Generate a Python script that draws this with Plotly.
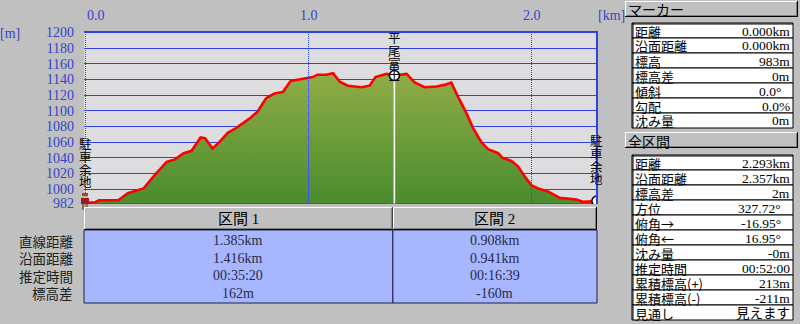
import plotly.graph_objects as go

# ---------------- data ----------------
dist_km = [0.0, 0.04, 0.06, 0.147, 0.19, 0.26, 0.31, 0.364, 0.40, 0.44, 0.476, 0.516, 0.536,
           0.57, 0.60, 0.638, 0.675, 0.735, 0.772, 0.81, 0.847, 0.885, 0.92, 0.974, 1.02,
           1.04, 1.08, 1.11, 1.14, 1.176, 1.21, 1.237, 1.274, 1.30, 1.35, 1.385, 1.44,
           1.476, 1.52, 1.573, 1.61, 1.64, 1.67, 1.708, 1.738, 1.775, 1.805, 1.85, 1.87,
           1.91, 1.94, 1.97, 2.0, 2.03, 2.075, 2.127, 2.20, 2.23, 2.293]
elev_m = [983, 983, 986, 986, 995, 1001, 1018, 1035, 1038, 1046, 1049, 1066, 1065,
          1052, 1060, 1072, 1078, 1090, 1099, 1116, 1122, 1124, 1138, 1141, 1143,
          1146, 1146, 1148, 1137, 1132, 1131, 1130, 1132, 1143, 1147, 1145, 1147,
          1136, 1130, 1131, 1133, 1136, 1118, 1097, 1078, 1060, 1051, 1046, 1040,
          1036, 1029, 1016, 1005, 1001, 997, 989, 987, 984, 985]

marker_km = [1.385, 2.293]
marker_elev = [1145, 985]

point_names = ["駐車余地", "平尾富士", "駐車余地"]
point_km = [0.0, 1.385, 2.293]

x_ticks = [0.0, 1.0, 2.0]
x_tick_text = ["0.0", "1.0", "2.0"]
y_ticks = [982, 1000, 1020, 1040, 1060, 1080, 1100, 1120, 1140, 1160, 1180, 1200]
y_tick_text = [str(v) for v in y_ticks]

section_names = ["区間 1", "区間 2"]
section_bounds_km = [0.0, 1.385, 2.293]
row_labels = ["直線距離", "沿面距離", "推定時間", "標高差"]
sec1_values = ["1.385km", "1.416km", "00:35:20", "162m"]
sec2_values = ["0.908km", "0.941km", "00:16:39", "-160m"]

marker_title = "マーカー"
marker_labels = ["距離", "沿面距離", "標高", "標高差", "傾斜", "勾配", "沈み量"]
marker_values = ["0.000km", "0.000km", "983m", "0m", "0.0°", "0.0%", "0m"]
total_title = "全区間"
total_labels = ["距離", "沿面距離", "標高差", "方位", "俯角→", "俯角←", "沈み量",
                "推定時間", "累積標高(+)", "累積標高(-)", "見通し"]
total_values = ["2.293km", "2.357km", "2m", "327.72°", "-16.95°", "16.95°", "-0m",
                "00:52:00", "213m", "-211m", "見えます"]

# ---------------- styling / layout helpers ----------------
W, H = 800, 324
PL, PR, PT, PB = 84, 598, 31, 205        # plot area in pixels
XR = [-0.0067, 2.298]
YR = [979.96, 1201.66]
BLUE = "#2e42e0"
TICKBLUE = "#3344cc"
BG = "#c0c0c0"
SERIF = "Liberation Serif, Noto Sans CJK JP"
CJK = "Noto Sans CJK JP"

def X(p):
    return (p - PL) / (PR - PL)

def Y(p):
    return (PB - p) / (PB - PT)

def km_px(k):
    return PL + (k - XR[0]) / (XR[1] - XR[0]) * (PR - PL)

shapes = []
annotations = []

def rect(x0, y0, x1, y1, fill, lc=None, lw=0):
    shapes.append(dict(type="rect", xref="paper", yref="paper", x0=X(x0), x1=X(x1),
                       y0=Y(y1), y1=Y(y0), fillcolor=fill,
                       line=dict(width=lw, color=lc or fill), layer="above"))

def seg(x0, y0, x1, y1, color, w=1, dash=None):
    d = dict(color=color, width=w)
    if dash:
        d["dash"] = dash
    shapes.append(dict(type="line", xref="paper", yref="paper", x0=X(x0), y0=Y(y0),
                       x1=X(x1), y1=Y(y1), line=d, layer="above"))

def bevel(x0, y0, x1, y1):
    rect(x0, y0, x1, y1, BG)
    seg(x0, y0 + 0.5, x1, y0 + 0.5, "#ffffff")
    seg(x0 + 0.5, y0, x0 + 0.5, y1, "#ffffff")
    seg(x0, y1 - 0.5, x1, y1 - 0.5, "#000000")
    seg(x1 - 0.5, y0, x1 - 0.5, y1, "#000000")
    seg(x0 + 1, y1 - 1.5, x1 - 1, y1 - 1.5, "#808080")
    seg(x1 - 1.5, y0 + 1, x1 - 1.5, y1 - 1, "#808080")

def text(x, y, s, size=13, color="#000000", anchor="center", family=CJK):
    annotations.append(dict(xref="paper", yref="paper", x=X(x), y=Y(y), text=s,
                            showarrow=False, xanchor=anchor, yanchor="middle",
                            borderpad=0, font=dict(family=family, size=size, color=color)))

# ---------------- traces ----------------
fig = go.Figure()
fig.add_trace(go.Scatter(x=[dist_km[0], dist_km[-1]], y=[y_ticks[0], y_ticks[0]],
                         mode="lines", line=dict(width=0), hoverinfo="skip"))
fig.add_trace(go.Scatter(x=dist_km, y=elev_m, mode="lines", fill="tonexty",
                         fillgradient=dict(type="vertical",
                                           colorscale=[[0, "#4a8c2e"], [1, "#90ad46"]]),
                         line=dict(color="#ff0000", width=2.6)))
# white marker line at the summit
fig.add_trace(go.Scatter(x=[marker_km[0], marker_km[0]], y=[y_ticks[0], marker_elev[0]],
                         mode="lines", line=dict(color="#ffffff", width=1.6)))
fig.add_trace(go.Scatter(x=marker_km, y=marker_elev, mode="markers",
                         marker=dict(symbol="circle", size=10, color="#ffffff",
                                     line=dict(color="#000000", width=1.5))))

# vertical dotted km lines (above the fill)
for k in x_ticks:
    shapes.append(dict(type="line", xref="x", yref="paper", x0=k, x1=k, y0=0, y1=1,
                       line=dict(color=BLUE, width=1, dash="1px,1px"), layer="above"))
# frame top / right
seg(PL, PT + 1, PR, PT + 1, BLUE, 2)
seg(PR - 1, PT, PR - 1, PB, BLUE, 2)
seg(PL, PB - 0.5, PR, PB - 0.5, "#b8b8b8", 1)

# x tick labels (top)
for k, t in zip(x_ticks, x_tick_text):
    annotations.append(dict(xref="x", yref="paper", x=k, y=Y(16), text=t, showarrow=False,
                            xanchor="center", yanchor="middle", xshift=11 if k == 0 else 0,
                            font=dict(family=SERIF, size=14, color=TICKBLUE)))
text(10, 33, "[m]", 14, TICKBLUE, family=SERIF)
text(611, 16, "[km]", 14, TICKBLUE, family=SERIF)

# vertical point names
name_top = [143.5, 37.5, 140.5]
for k, name, top in zip(point_km, point_names, name_top):
    for i, ch in enumerate(name):
        annotations.append(dict(xref="x", yref="paper", x=k, y=Y(top + i * 12.8), text=ch,
                                showarrow=False, xanchor="center", yanchor="middle",
                                borderpad=0, font=dict(family=CJK, size=12.5, color="#000000")))

# hiker icon at the start
rect(82, 193, 88, 196, "#b0402a")
rect(83, 196, 88, 198, "#e0b090")
rect(81, 198, 89, 204, "#9a1a30")
rect(82, 204, 84.5, 210, "#8a7050")
rect(85.5, 204, 88, 210, "#8a7050")

# ---------------- bottom section table ----------------
HY0, HY1, BY1 = 207, 230, 303
for j, name in enumerate(section_names):
    x0 = PL if j == 0 else km_px(section_bounds_km[j]) - 1.5
    x1 = km_px(section_bounds_km[j + 1]) - 1.5 if j == 0 else PR - 1
    bevel(x0, HY0, x1, HY1)
    text((x0 + x1) / 2, 218.5, name, 15, "#000000", family=SERIF)
    rect(x0, HY1, x1, BY1, "#a6b6ff", "#202040", 1)
    vals = sec1_values if j == 0 else sec2_values
    for i, v in enumerate(vals):
        text((x0 + x1) / 2, 240.5 + i * 17.6, v, 14, "#2a2a48", family=SERIF)
for i, lab in enumerate(row_labels):
    text(74, 240.5 + i * 17.6, lab, 13.5, "#202020", anchor="right")

# ---------------- right panel ----------------
def panel(title, ty0, labels, values, top):
    bevel(625, ty0, 798, ty0 + 16)
    text(627, ty0 + 8.5, title, 14, "#000000", anchor="left")
    rh = 15
    for i, (lab, val) in enumerate(zip(labels, values)):
        y0 = top + i * rh
        rect(632, y0, 793, y0 + rh, "#ffffff", "#000000", 1)
        text(633.5, y0 + rh / 2 + 0.5, lab, 13, "#000000", anchor="left")
        xr = 782 if val.endswith("°") else 791
        text(xr, y0 + rh / 2 + 0.5, val, 13.5, "#000000", anchor="right", family=SERIF)
    seg(633, top, 633, top + rh * len(labels), "#000000", 1)
    seg(632, top + 1, 793, top + 1, "#000000", 1)

panel(marker_title, 1, marker_labels, marker_values, 23)
panel(total_title, 132, total_labels, total_values, 155)

fig.update_layout(
    width=W, height=H,
    margin=dict(l=PL, r=W - PR, t=PT, b=H - PB, pad=0),
    paper_bgcolor=BG, plot_bgcolor="#dddcde",
    showlegend=False,
    shapes=shapes, annotations=annotations,
    xaxis=dict(range=XR, showgrid=False, zeroline=False, showticklabels=False,
               ticks="", fixedrange=True),
    yaxis=dict(range=YR, tickvals=y_ticks, ticktext=y_tick_text, showgrid=True,
               gridcolor=BLUE, gridwidth=1.4, zeroline=False, ticks="",
               ticklabelstandoff=9,
               tickfont=dict(family=SERIF, size=14, color=TICKBLUE), fixedrange=True),
)

fig.write_html("out.html")
